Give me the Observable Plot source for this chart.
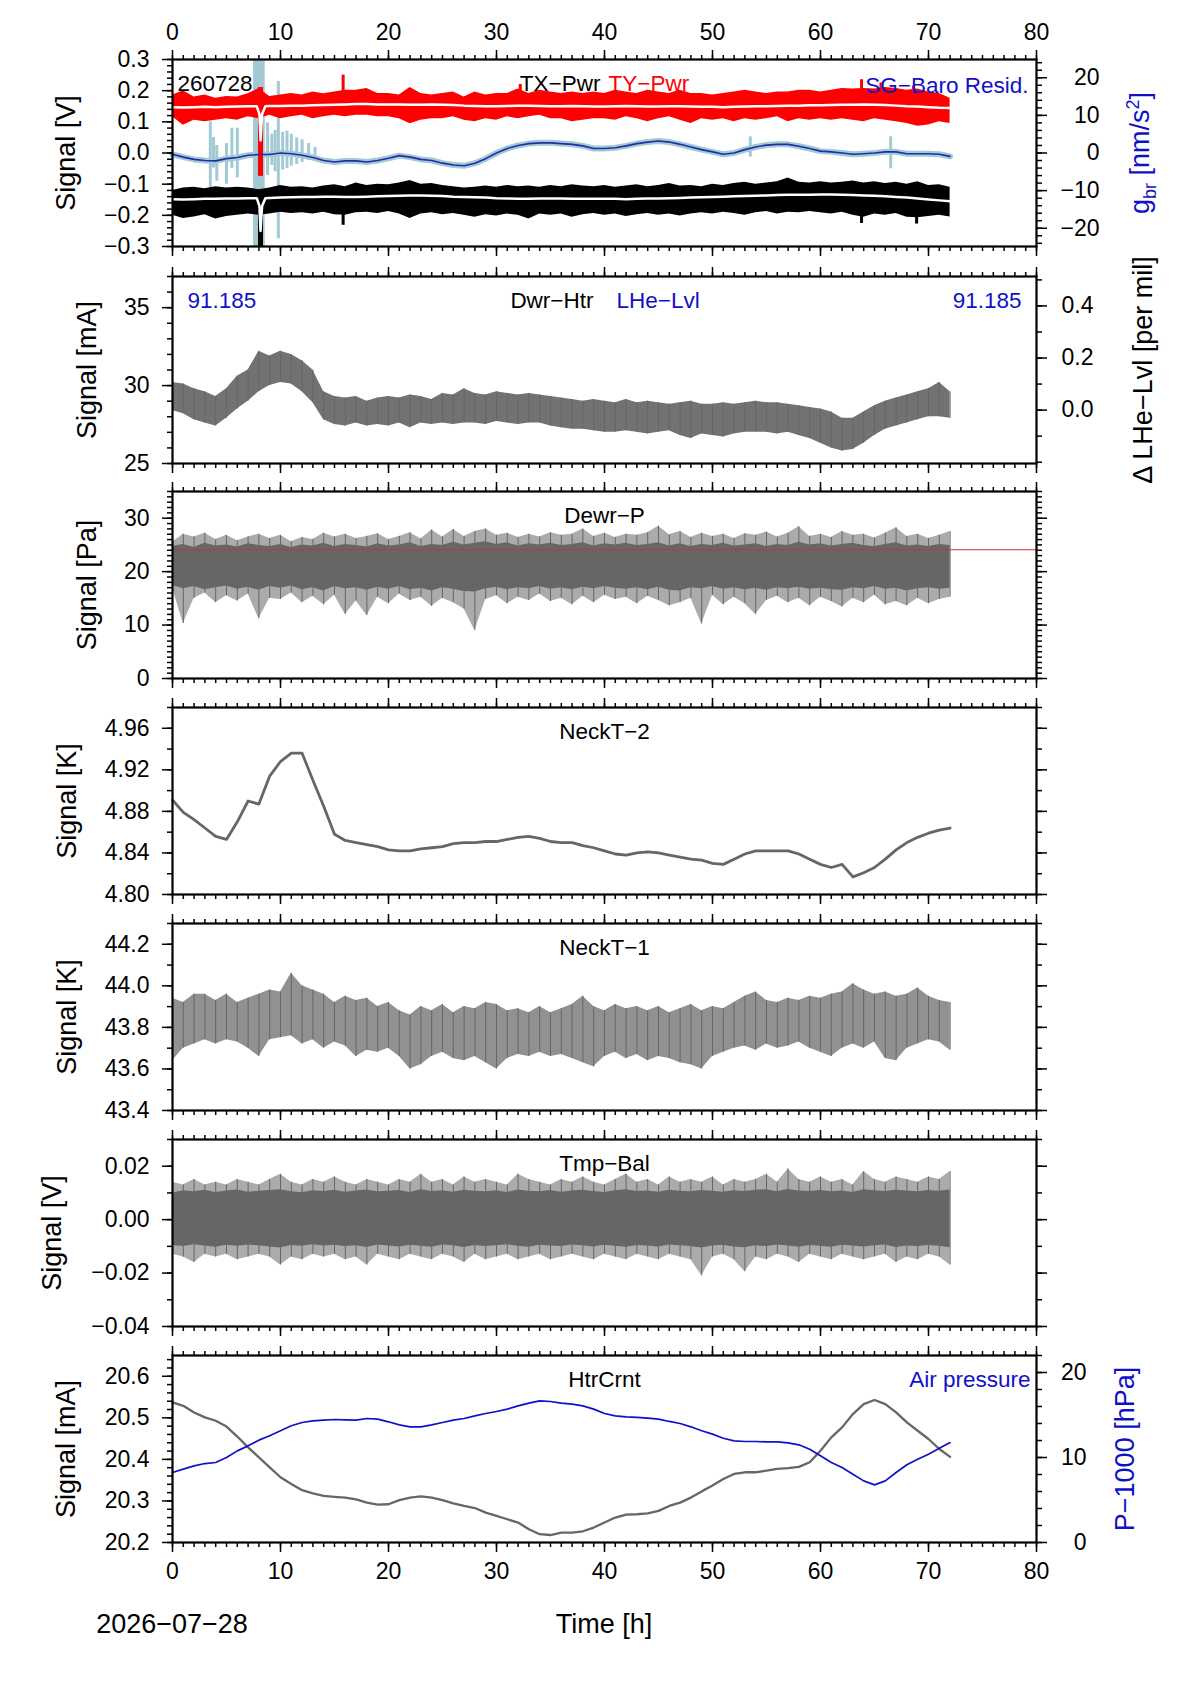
<!DOCTYPE html>
<html>
<head>
<meta charset="UTF-8">
<title>SG housekeeping 2026-07-28</title>
<script src="https://cdn.jsdelivr.net/npm/d3@7"></script>
<script src="https://cdn.jsdelivr.net/npm/@observablehq/plot@0.6"></script>
<style>
  body { margin: 0; background: white; }
  #page { position: relative; width: 1190px; height: 1684px; font-family: "Liberation Sans", Arial, sans-serif; }
  .panel { position: absolute; left: 0; }
  .vlab { position: absolute; white-space: nowrap; transform: translate(-50%, -50%) rotate(-90deg); font-size: 27px; }
  .hlab { position: absolute; white-space: nowrap; transform: translate(-50%, -50%); font-size: 27px; }
  .vlab sub, .vlab sup { font-size: 18px; }
</style>
</head>
<body>
<div id="page"></div>
<script>
// time axis (hours since start)
const hours = [0,1,2,3,4,5,6,7,8,9,10,11,12,13,14,15,16,17,18,19,20,21,22,23,24,25,26,27,28,29,30,31,32,33,34,35,
  36,37,38,39,40,41,42,43,44,45,46,47,48,49,50,51,52,53,54,55,56,57,58,59,60,61,62,63,64,65,66,67,68,69,70,71,72];

// panel 1 : TY-Pwr (red), TX-Pwr (black) [V], SG-Baro residual [nm/s^2]
const redMid = [0.147,0.146,0.147,0.148,0.147,0.148,0.149,0.150,0.150,0.151,
  0.151,0.152,0.152,0.153,0.154,0.155,0.156,0.157,0.157,0.156,
  0.156,0.156,0.155,0.155,0.156,0.155,0.154,0.152,0.151,0.150,
  0.150,0.151,0.152,0.152,0.151,0.150,0.150,0.151,0.150,0.149,
  0.149,0.150,0.151,0.150,0.149,0.149,0.150,0.150,0.149,0.148,
  0.148,0.147,0.148,0.149,0.150,0.150,0.151,0.152,0.152,0.153,
  0.153,0.154,0.155,0.155,0.156,0.155,0.154,0.152,0.150,0.149,
  0.147,0.145,0.144];
const redHi = [0.185,0.200,0.180,0.186,0.176,0.181,0.180,0.190,0.207,0.181,
  0.186,0.191,0.186,0.196,0.190,0.196,0.201,0.201,0.207,0.191,
  0.191,0.186,0.210,0.191,0.186,0.191,0.196,0.180,0.196,0.186,
  0.191,0.191,0.205,0.191,0.201,0.196,0.191,0.196,0.191,0.196,
  0.191,0.201,0.196,0.191,0.201,0.196,0.191,0.201,0.191,0.191,
  0.186,0.191,0.196,0.201,0.196,0.191,0.196,0.196,0.201,0.201,
  0.196,0.201,0.207,0.205,0.207,0.205,0.210,0.207,0.201,0.205,
  0.196,0.191,0.176];
const redLo = [0.116,0.089,0.105,0.100,0.105,0.110,0.105,0.116,0.110,0.121,
  0.110,0.116,0.121,0.110,0.116,0.121,0.116,0.121,0.121,0.116,
  0.116,0.110,0.094,0.105,0.110,0.110,0.116,0.105,0.100,0.110,
  0.105,0.116,0.110,0.116,0.121,0.110,0.110,0.100,0.105,0.110,
  0.110,0.105,0.116,0.110,0.100,0.110,0.116,0.105,0.095,0.110,
  0.105,0.110,0.100,0.110,0.105,0.110,0.116,0.100,0.110,0.105,
  0.110,0.105,0.110,0.105,0.100,0.110,0.105,0.100,0.095,0.086,
  0.090,0.100,0.095];
const blkMid = [-0.148,-0.149,-0.148,-0.147,-0.147,-0.146,-0.146,-0.145,-0.145,-0.144,
  -0.143,-0.142,-0.141,-0.141,-0.140,-0.140,-0.141,-0.141,-0.140,-0.139,
  -0.138,-0.137,-0.136,-0.136,-0.137,-0.138,-0.140,-0.141,-0.142,-0.143,
  -0.145,-0.146,-0.147,-0.147,-0.146,-0.146,-0.146,-0.147,-0.147,-0.147,
  -0.147,-0.147,-0.148,-0.147,-0.146,-0.146,-0.145,-0.144,-0.143,-0.142,
  -0.141,-0.140,-0.139,-0.138,-0.137,-0.136,-0.135,-0.134,-0.134,-0.134,
  -0.133,-0.133,-0.134,-0.135,-0.136,-0.137,-0.139,-0.141,-0.143,-0.146,
  -0.149,-0.152,-0.155];
const blkHi = [-0.120,-0.112,-0.110,-0.115,-0.108,-0.112,-0.110,-0.112,-0.118,-0.112,
  -0.104,-0.110,-0.108,-0.112,-0.106,-0.102,-0.108,-0.096,-0.104,-0.100,
  -0.102,-0.096,-0.088,-0.100,-0.098,-0.104,-0.108,-0.112,-0.110,-0.106,
  -0.110,-0.104,-0.108,-0.106,-0.110,-0.104,-0.108,-0.102,-0.106,-0.108,
  -0.104,-0.110,-0.106,-0.102,-0.108,-0.104,-0.098,-0.106,-0.104,-0.108,
  -0.100,-0.104,-0.098,-0.094,-0.100,-0.096,-0.092,-0.080,-0.094,-0.096,
  -0.092,-0.096,-0.094,-0.090,-0.096,-0.092,-0.098,-0.094,-0.100,-0.092,
  -0.104,-0.102,-0.110];
const blkLo = [-0.200,-0.210,-0.205,-0.198,-0.212,-0.204,-0.200,-0.196,-0.200,-0.196,
  -0.190,-0.194,-0.192,-0.196,-0.190,-0.198,-0.200,-0.192,-0.190,-0.194,
  -0.188,-0.196,-0.210,-0.196,-0.192,-0.198,-0.194,-0.200,-0.206,-0.198,
  -0.202,-0.196,-0.200,-0.212,-0.196,-0.200,-0.196,-0.206,-0.198,-0.194,
  -0.200,-0.196,-0.204,-0.198,-0.194,-0.200,-0.196,-0.202,-0.196,-0.192,
  -0.196,-0.190,-0.194,-0.200,-0.192,-0.188,-0.196,-0.190,-0.192,-0.188,
  -0.192,-0.196,-0.190,-0.200,-0.206,-0.196,-0.200,-0.194,-0.206,-0.208,
  -0.204,-0.200,-0.205];
const baroResid = [-0.35,-1.1,-1.7,-2.0,-2.1,-1.5,-1.2,-0.6,-0.4,-0.4,
  0,-0.2,-0.6,-1.2,-2.0,-2.4,-2.1,-2.1,-2.4,-2.0,
  -1.4,-0.7,-1.1,-1.7,-2.0,-2.7,-3.2,-3.4,-2.7,-1.5,
  0,1.2,2.0,2.5,2.7,2.7,2.5,2.3,1.9,1.2,
  1.2,1.4,1.9,2.5,2.9,3.2,2.9,2.3,1.6,0.9,
  0.3,-0.35,0,0.9,1.6,2.1,2.3,2.3,1.8,1.2,
  0.5,0.3,0,-0.35,-0.2,0,0.3,0.3,-0.2,-0.2,
  -0.2,-0.35,-0.9];
// disturbances in the raw gravity trace [nm/s^2]
const spikeT  = [3.5,3.8,4.1,5.0,5.5,6.0,7.6,7.8,8.0,8.2,8.4,8.8,9.2,9.5,9.8,10.2,10.6,11.0,11.5,12.0,12.6,13.2,53.5,66.5];
const spikeLo = [-10.8,-4,-7.5,-8.3,-4.1,-6.6,-26,-26,-26,-26,-26,-6,-3.3,-5,-22.8,-4.5,-4.1,-3.5,-3,-2.5,-2,-1.8,-1.1,-4.2];
const spikeHi = [8.3,4.1,2.0,2.5,6.6,6.6,26,26,26,26,26,8,5.0,6,19.0,5.5,5.8,5.0,4,3.5,2.5,1.5,4.3,4.3];
// power outliers [V]
const redSpikeT = [15.8,32.2,63.8,65.6,68.6];
const redSpikeLo = [0.18,0.18,0.18,0.18,0.18];
const redSpikeHi = [0.25,0.22,0.235,0.225,0.215];
const blkSpikeT = [15.8,63.8,68.9];
const blkSpikeLo = [-0.232,-0.226,-0.228];
const blkSpikeHi = [-0.19,-0.19,-0.19];
// event at 8.2 h
const dipT = [8.15];
const redDipLo = [-0.075], redDipHi = [0.21];
const blkDipLo = [-0.32], blkDipHi = [-0.13];
const notchT = [7.8,8.05,8.15,8.3,8.6];
const redNotch = [0.150,0.125,0.04,0.125,0.150];
const blkNotch = [-0.145,-0.17,-0.25,-0.17,-0.145];

// panel 2 : Dwr-Htr [mA]
const dwrHi = [30.2,30.1,29.8,29.6,29.3,29.8,30.6,31.0,32.2,31.9,
  32.2,32.0,31.6,31.0,29.6,29.3,29.2,29.3,29.0,29.2,
  29.3,29.2,29.4,29.3,29.1,29.5,29.4,29.8,29.5,29.4,
  29.6,29.5,29.4,29.5,29.4,29.3,29.2,29.1,29.0,29.1,
  29.0,28.9,29.1,28.9,29.0,28.9,28.8,28.9,29.0,28.8,
  28.8,28.9,28.8,28.9,29.0,28.9,28.9,28.8,28.7,28.6,
  28.5,28.3,27.9,27.9,28.3,28.7,29.0,29.2,29.4,29.6,
  29.8,30.2,29.6];
const dwrLo = [28.4,28.2,27.8,27.6,27.4,27.9,28.5,29.0,29.6,30.0,
  30.2,30.1,29.6,28.9,27.8,27.5,27.4,27.6,27.4,27.5,
  27.4,27.6,27.3,27.6,27.5,27.6,27.5,27.6,27.6,27.5,
  27.7,27.6,27.5,27.6,27.6,27.4,27.3,27.2,27.2,27.1,
  27.0,27.0,27.1,27.0,26.9,27.0,27.1,26.8,26.6,26.9,
  26.8,26.7,26.9,27.0,27.0,27.0,26.9,27.0,26.8,26.6,
  26.3,26.0,25.8,25.9,26.3,26.8,27.2,27.4,27.6,27.8,
  28.0,28.0,27.9];
const lheLabel = "91.185";

// panel 3 : Dewr-P [Pa]
const dewrLimit = 24.1;
const dewrOutHi = [25.5,27.0,26.5,27.2,26.0,26.8,25.8,26.5,27.0,26.2,
  26.8,25.6,26.4,26.0,27.2,26.5,27.0,26.2,26.6,27.1,
  26.0,26.6,27.3,26.1,27.8,26.5,27.9,26.6,27.5,28.0,
  26.8,27.2,26.4,27.0,26.5,27.3,26.8,27.0,28.0,26.6,
  27.2,26.4,27.0,26.8,27.3,28.5,26.9,27.5,26.4,27.2,
  26.6,27.0,26.2,27.1,26.8,27.4,26.5,27.2,28.4,26.6,
  27.0,26.4,27.5,26.8,27.0,26.3,27.2,28.2,26.6,27.0,
  26.2,26.8,27.5];
const dewrOutLo = [17.0,10.3,15.0,16.0,14.2,15.5,14.5,15.8,11.2,15.0,
  14.8,16.0,14.2,15.4,13.8,15.6,12.0,14.5,11.8,15.2,
  14.0,15.8,14.6,15.2,13.5,15.0,14.2,13.0,9.0,14.8,
  15.5,14.0,15.2,14.6,15.8,14.4,15.0,13.8,15.4,14.2,
  15.6,14.8,15.2,14.0,15.4,14.6,13.6,14.2,15.0,10.2,
  15.6,13.8,15.2,14.0,12.0,14.6,15.4,14.2,15.0,13.6,
  15.2,14.4,13.4,15.0,14.2,15.6,13.8,14.4,13.6,15.0,
  14.0,14.8,15.2];
const dewrCoreHi = [24.7,25.1,24.5,25.3,24.8,25.0,24.6,25.2,24.9,24.7,
  25.1,24.5,25.0,24.8,25.3,24.7,25.1,24.9,24.6,25.2,
  24.8,25.0,25.4,24.7,25.1,24.9,25.5,25.0,25.3,25.6,
  25.1,25.4,24.8,25.2,25.0,25.3,24.9,25.1,25.4,24.8,
  25.2,25.0,25.3,24.9,25.1,25.4,24.8,25.2,24.7,25.1,
  24.9,25.3,24.8,25.0,25.2,24.7,25.1,24.9,25.5,25.0,
  25.2,24.8,25.1,25.3,24.9,24.7,25.1,25.4,24.8,25.0,
  24.7,25.1,24.9];
const dewrCoreLo = [17.4,16.8,17.2,16.6,17.0,17.3,16.7,17.1,16.5,17.2,
  16.9,17.3,16.6,17.0,16.4,17.2,16.8,17.0,16.5,17.1,
  16.7,17.2,16.6,16.9,16.4,17.0,16.7,16.3,16.2,16.8,
  17.1,16.6,17.0,16.8,17.2,16.7,17.0,16.6,17.1,16.8,
  17.2,16.9,16.7,17.0,16.6,17.1,16.5,16.4,17.0,16.8,
  17.2,16.7,17.0,16.6,16.9,16.5,17.0,16.8,17.1,16.7,
  16.9,16.6,16.5,17.0,16.8,17.2,16.7,16.9,16.4,16.8,
  17.0,16.7,16.9];

// panel 4 : NeckT-2 [K]
const neck2 = [4.891,4.879,4.872,4.864,4.856,4.853,4.870,4.890,4.887,4.914,
  4.928,4.936,4.936,4.910,4.885,4.858,4.852,4.850,4.848,4.846,
  4.843,4.842,4.842,4.844,4.845,4.846,4.849,4.850,4.850,4.851,
  4.851,4.853,4.855,4.856,4.854,4.851,4.850,4.850,4.847,4.845,
  4.842,4.839,4.838,4.840,4.841,4.840,4.838,4.836,4.834,4.833,
  4.830,4.829,4.834,4.839,4.842,4.842,4.842,4.842,4.839,4.834,
  4.829,4.826,4.829,4.817,4.821,4.826,4.834,4.843,4.850,4.855,
  4.859,4.862,4.864];

// panel 5 : NeckT-1 [K]
const neck1Hi = [43.94,43.92,43.96,43.96,43.93,43.96,43.92,43.94,43.96,43.98,
  43.97,44.06,44.00,43.98,43.96,43.92,43.95,43.93,43.94,43.90,
  43.92,43.88,43.86,43.90,43.88,43.91,43.87,43.90,43.89,43.92,
  43.91,43.88,43.89,43.87,43.90,43.87,43.89,43.91,43.95,43.90,
  43.88,43.91,43.89,43.90,43.88,43.90,43.87,43.89,43.91,43.88,
  43.90,43.89,43.92,43.95,43.97,43.93,43.92,43.94,43.93,43.95,
  43.94,43.96,43.97,44.01,43.98,43.96,43.97,43.95,43.96,43.99,
  43.95,43.93,43.92];
const neck1Lo = [43.64,43.70,43.72,43.74,43.72,43.74,43.73,43.70,43.66,43.74,
  43.75,43.76,43.72,43.74,43.70,43.73,43.71,43.66,43.69,43.68,
  43.70,43.66,43.60,43.62,43.66,43.68,43.65,43.64,43.66,43.63,
  43.60,43.65,43.67,43.66,43.68,43.66,43.67,43.65,43.63,43.61,
  43.66,43.68,43.65,43.67,43.64,43.66,43.65,43.63,43.62,43.60,
  43.66,43.68,43.70,43.71,43.69,43.72,43.70,43.71,43.73,43.70,
  43.68,43.66,43.70,43.72,43.70,43.73,43.65,43.64,43.70,43.72,
  43.74,43.73,43.69];

// panel 6 : Tmp-Bal [V]
const tmpOutHi = [0.014,0.013,0.015,0.013,0.014,0.013,0.015,0.014,0.013,0.015,
  0.017,0.014,0.013,0.015,0.014,0.016,0.014,0.013,0.015,0.014,
  0.013,0.015,0.014,0.017,0.014,0.015,0.013,0.016,0.014,0.015,
  0.014,0.013,0.017,0.015,0.014,0.013,0.015,0.014,0.016,0.014,
  0.013,0.015,0.017,0.014,0.015,0.013,0.016,0.014,0.015,0.014,
  0.016,0.013,0.015,0.014,0.015,0.017,0.014,0.019,0.015,0.014,
  0.016,0.014,0.015,0.013,0.018,0.015,0.014,0.016,0.015,0.014,
  0.016,0.015,0.018];
const tmpOutLo = [-0.013,-0.014,-0.016,-0.013,-0.014,-0.013,-0.015,-0.014,-0.013,-0.014,
  -0.017,-0.014,-0.015,-0.013,-0.014,-0.013,-0.015,-0.014,-0.017,-0.013,
  -0.014,-0.015,-0.013,-0.014,-0.015,-0.013,-0.014,-0.016,-0.013,-0.015,
  -0.014,-0.013,-0.015,-0.014,-0.013,-0.015,-0.014,-0.013,-0.014,-0.015,
  -0.013,-0.014,-0.015,-0.013,-0.014,-0.015,-0.013,-0.014,-0.015,-0.021,
  -0.014,-0.013,-0.015,-0.0195,-0.014,-0.015,-0.013,-0.014,-0.016,-0.013,
  -0.014,-0.015,-0.013,-0.014,-0.015,-0.014,-0.013,-0.016,-0.014,-0.015,
  -0.013,-0.014,-0.017];
const tmpCoreHi = [0.0100,0.0108,0.0104,0.0110,0.0102,0.0107,0.0111,0.0103,0.0106,0.0109,
  0.0112,0.0104,0.0101,0.0108,0.0105,0.0110,0.0103,0.0107,0.0111,0.0104,
  0.0106,0.0109,0.0102,0.0112,0.0105,0.0108,0.0103,0.0110,0.0106,0.0104,
  0.0108,0.0102,0.0111,0.0106,0.0104,0.0109,0.0103,0.0107,0.0110,0.0105,
  0.0102,0.0108,0.0112,0.0105,0.0107,0.0103,0.0110,0.0106,0.0104,0.0109,
  0.0106,0.0103,0.0108,0.0105,0.0110,0.0112,0.0104,0.0113,0.0107,0.0105,
  0.0109,0.0104,0.0107,0.0102,0.0112,0.0108,0.0105,0.0110,0.0107,0.0104,
  0.0109,0.0106,0.0111];
const tmpCoreLo = [-0.0097,-0.0101,-0.0094,-0.0099,-0.0103,-0.0096,-0.0100,-0.0095,-0.0098,-0.0102,
  -0.0106,-0.0097,-0.0100,-0.0094,-0.0099,-0.0096,-0.0101,-0.0098,-0.0104,-0.0095,
  -0.0099,-0.0102,-0.0096,-0.0100,-0.0103,-0.0095,-0.0098,-0.0104,-0.0097,-0.0101,
  -0.0098,-0.0094,-0.0100,-0.0103,-0.0096,-0.0099,-0.0101,-0.0095,-0.0098,-0.0102,
  -0.0096,-0.0100,-0.0103,-0.0097,-0.0099,-0.0102,-0.0095,-0.0098,-0.0101,-0.0106,
  -0.0099,-0.0096,-0.0102,-0.0105,-0.0098,-0.0101,-0.0095,-0.0099,-0.0103,-0.0097,
  -0.0100,-0.0103,-0.0096,-0.0099,-0.0102,-0.0098,-0.0095,-0.0104,-0.0099,-0.0101,
  -0.0097,-0.0100,-0.0105];

// panel 7 : HtrCrnt [mA] and air pressure P-1000 [hPa]
const htrCrnt = [20.537,20.529,20.513,20.501,20.493,20.479,20.455,20.429,20.405,20.381,
  20.357,20.341,20.326,20.318,20.312,20.310,20.308,20.304,20.296,20.291,
  20.292,20.302,20.308,20.311,20.308,20.302,20.294,20.288,20.283,20.272,
  20.264,20.256,20.248,20.232,20.220,20.218,20.224,20.224,20.227,20.236,
  20.248,20.260,20.267,20.268,20.270,20.276,20.288,20.296,20.308,20.323,
  20.337,20.353,20.365,20.369,20.369,20.373,20.377,20.379,20.382,20.393,
  20.421,20.453,20.477,20.509,20.533,20.543,20.533,20.513,20.489,20.469,
  20.449,20.425,20.406];
const airPres = [8.24,8.63,9.02,9.29,9.41,10.0,10.78,11.37,12.04,12.55,
  13.14,13.73,14.12,14.31,14.39,14.47,14.43,14.39,14.59,14.51,
  14.20,13.84,13.61,13.61,13.84,14.12,14.39,14.59,14.90,15.18,
  15.41,15.69,16.08,16.39,16.67,16.59,16.39,16.27,16.08,15.69,
  15.18,14.90,14.78,14.71,14.63,14.51,14.24,14.00,13.61,13.14,
  12.75,12.27,11.96,11.88,11.88,11.84,11.84,11.73,11.49,10.98,
  10.20,9.41,8.82,8.04,7.25,6.78,7.25,8.24,9.14,9.80,
  10.39,11.10,11.76];

const dateLabel = "2026−07−28";
const stationCode = "260728";

// ---------------------------------------------------------------------
const W = 1190, ML = 172, MR = 154, PH = 187;
const tops = [59, 276, 491, 707, 923, 1139, 1355];
const GRAY = "#666666", RED = "#ff0000", LBLUE = "#a3c9d4", DBLUE = "#1b2fa8", TBLUE = "#1010c8";
const FONT = "'Liberation Sans', Arial, sans-serif";
const TICKFONT = 23;
const page = document.querySelector("#page");

const steps = (a, b, s) => d3.range(Math.round((b - a) / s) + 1).map(k => +(a + k * s).toFixed(4));
const none = () => "";
const rows = hours.map((t, i) => ({t, i}));

function addPanel(i, cfg) {
  const mt = i === 0 ? 59 : 40;
  const mb = i === 6 ? 64 : 40;
  const axes = [];
  for (const anchor of ["top", "bottom"]) {
    const lab = (anchor === "top" && i === 0) || (anchor === "bottom" && i === 6);
    axes.push(Plot.axisX({anchor, ticks: steps(0, 80, 1), tickSize: 5, tickFormat: none, label: null, strokeWidth: 1.5}));
    axes.push(Plot.axisX({anchor, ticks: steps(0, 80, 10), tickSize: 10, tickPadding: 10, strokeWidth: 1.5,
      tickFormat: lab ? d => d : none, label: null, fontSize: TICKFONT}));
  }
  axes.push(Plot.axisY({anchor: "left", ticks: cfg.minor, tickSize: 5, tickFormat: none, label: null, strokeWidth: 1.5}));
  axes.push(Plot.axisY({anchor: "left", ticks: cfg.major, tickSize: 10, tickPadding: 13, strokeWidth: 1.5,
    tickFormat: d3.format(cfg.fmt), label: null, fontSize: TICKFONT}));
  if (cfg.right) {
    const r = cfg.right;
    const toPrim = d3.scaleLinear(r.domain, cfg.y);
    axes.push(Plot.axisY({anchor: "right", ticks: r.minor.map(toPrim), tickSize: 5, tickFormat: none, label: null, strokeWidth: 1.5}));
    axes.push(Plot.axisY({anchor: "right", ticks: r.major.map(toPrim), tickSize: 10, tickPadding: r.pad, strokeWidth: 1.5,
      textAnchor: "end", label: null, fontSize: TICKFONT,
      tickFormat: d => d3.format(r.fmt)(Math.round(toPrim.invert(d) * 100) / 100 + 0)}));
  } else {
    axes.push(Plot.axisY({anchor: "right", ticks: cfg.minor, tickSize: 5, tickFormat: none, label: null, strokeWidth: 1.5}));
    axes.push(Plot.axisY({anchor: "right", ticks: cfg.major, tickSize: 10, tickFormat: none, label: null, strokeWidth: 1.5}));
  }
  const plot = Plot.plot({
    width: W, height: PH + mt + mb,
    marginLeft: ML, marginRight: MR, marginTop: mt, marginBottom: mb,
    x: {domain: [0, 80], axis: null},
    y: {domain: cfg.y, axis: null},
    style: {fontFamily: FONT, fontSize: TICKFONT + "px", background: "transparent", color: "black"},
    marks: [...cfg.marks, Plot.frame({stroke: "black", strokeWidth: 2.2}), ...axes]
  });
  const div = document.createElement("div");
  div.className = "panel";
  div.style.top = (tops[i] - mt) + "px";
  div.append(plot);
  page.append(div);
}

function title(txt, opts = {}) {
  return Plot.text([txt], {frameAnchor: "top", dy: 16, fontSize: 22.5, fill: "black", ...opts});
}

// panel 1
const gToV = d3.scaleLinear([-24.85, 24.85], [-0.3, 0.3]);
const p1 = rows.map(({t, i}) => ({t, redLo: redLo[i], redHi: redHi[i], redMid: redMid[i],
  blkLo: blkLo[i], blkHi: blkHi[i], blkMid: blkMid[i], baro: gToV(baroResid[i])}));
const spikes = spikeT.map((t, i) => ({t, lo: gToV(spikeLo[i]), hi: gToV(spikeHi[i])}));
const redSp = redSpikeT.map((t, i) => ({t, lo: redSpikeLo[i], hi: redSpikeHi[i]}));
const blkSp = blkSpikeT.map((t, i) => ({t, lo: blkSpikeLo[i], hi: blkSpikeHi[i]}));
const outside = d => d.t < 7.7 || d.t > 8.7;
const redWhite = [...p1.filter(outside).map(d => ({t: d.t, v: d.redMid})),
  ...notchT.map((t, i) => ({t, v: redNotch[i]}))].sort((a, b) => a.t - b.t);
const blkWhite = [...p1.filter(outside).map(d => ({t: d.t, v: d.blkMid})),
  ...notchT.map((t, i) => ({t, v: blkNotch[i]}))].sort((a, b) => a.t - b.t);

addPanel(0, {
  y: [-0.3, 0.3], major: steps(-0.3, 0.3, 0.1), minor: steps(-0.3, 0.3, 0.02), fmt: ".1f",
  right: {domain: [-24.85, 24.85], major: [-20, -10, 0, 10, 20], minor: steps(-24, 24, 2), fmt: "d", pad: 53},
  marks: [
    Plot.ruleX(spikes, {x: "t", y1: "lo", y2: "hi", stroke: LBLUE, strokeWidth: 3, clip: true}),
    Plot.lineY(p1, {x: "t", y: "baro", stroke: LBLUE, strokeWidth: 6}),
    Plot.areaY(p1, {x: "t", y1: "redLo", y2: "redHi", fill: RED}),
    Plot.areaY(p1, {x: "t", y1: "blkLo", y2: "blkHi", fill: "black"}),
    Plot.ruleX(redSp, {x: "t", y1: "lo", y2: "hi", stroke: RED, strokeWidth: 3}),
    Plot.ruleX(blkSp, {x: "t", y1: "lo", y2: "hi", stroke: "black", strokeWidth: 3}),
    Plot.ruleX(dipT, {x: d => d, y1: redDipLo, y2: redDipHi, stroke: RED, strokeWidth: 5}),
    Plot.ruleX(dipT, {x: d => d, y1: blkDipLo, y2: blkDipHi, stroke: "black", strokeWidth: 5, clip: true}),
    Plot.lineY(redWhite, {x: "t", y: "v", stroke: "white", strokeWidth: 2.5}),
    Plot.lineY(blkWhite, {x: "t", y: "v", stroke: "white", strokeWidth: 2.5}),
    Plot.lineY(p1, {x: "t", y: "baro", stroke: DBLUE, strokeWidth: 1.6}),
    Plot.text([stationCode], {frameAnchor: "top-left", textAnchor: "start", dx: 5, dy: 16, fontSize: 22.5, fill: "black"}),
    title("TX−Pwr", {textAnchor: "end", dx: -4}),
    title("TY−Pwr", {textAnchor: "start", dx: 4, fill: RED}),
    Plot.text(["SG−Baro Resid."], {frameAnchor: "top-right", textAnchor: "end", dx: -8, dy: 18, fontSize: 22.5, fill: TBLUE})
  ]
});

// panel 2
const p2 = rows.map(({t, i}) => ({t, lo: dwrLo[i], hi: dwrHi[i]}));
addPanel(1, {
  y: [25, 37], major: [25, 30, 35], minor: steps(25, 37, 1), fmt: "d",
  right: {domain: [-0.205, 0.513], major: [0, 0.2, 0.4], minor: steps(-0.2, 0.5, 0.1), fmt: ".1f", pad: 47},
  marks: [
    Plot.areaY(p2, {x: "t", y1: "lo", y2: "hi", fill: GRAY, fillOpacity: 0.92}),
    Plot.ruleX(p2, {x: "t", y1: "lo", y2: "hi", stroke: GRAY, strokeWidth: 1}),
    Plot.text([lheLabel], {frameAnchor: "top-left", textAnchor: "start", dx: 15, dy: 16, fontSize: 22.5, fill: TBLUE}),
    Plot.text([lheLabel], {frameAnchor: "top-right", textAnchor: "end", dx: -15, dy: 16, fontSize: 22.5, fill: TBLUE}),
    title("Dwr−Htr", {textAnchor: "end", dx: -11}),
    title("LHe−Lvl", {textAnchor: "start", dx: 12, fill: TBLUE})
  ]
});

// panel 3
const p3 = rows.map(({t, i}) => ({t, oLo: dewrOutLo[i], oHi: dewrOutHi[i], cLo: dewrCoreLo[i], cHi: dewrCoreHi[i]}));
addPanel(2, {
  y: [0, 35], major: [0, 10, 20, 30], minor: steps(0, 35, 1), fmt: "d",
  marks: [
    Plot.areaY(p3, {x: "t", y1: "oLo", y2: "oHi", fill: GRAY, fillOpacity: 0.55}),
    Plot.ruleX(p3, {x: "t", y1: "oLo", y2: "oHi", stroke: GRAY, strokeWidth: 1}),
    Plot.areaY(p3, {x: "t", y1: "cLo", y2: "cHi", fill: GRAY}),
    Plot.ruleY([dewrLimit], {stroke: "#cc3333", strokeWidth: 1.2}),
    title("Dewr−P")
  ]
});

// panel 4
const p4 = rows.map(({t, i}) => ({t, v: neck2[i]}));
addPanel(3, {
  y: [4.80, 4.98], major: steps(4.80, 4.96, 0.04), minor: steps(4.80, 4.98, 0.02), fmt: ".2f",
  marks: [
    Plot.lineY(p4, {x: "t", y: "v", stroke: GRAY, strokeWidth: 2.8}),
    title("NeckT−2")
  ]
});

// panel 5
const p5 = rows.map(({t, i}) => ({t, lo: neck1Lo[i], hi: neck1Hi[i]}));
addPanel(4, {
  y: [43.4, 44.3], major: steps(43.4, 44.2, 0.2), minor: steps(43.4, 44.3, 0.1), fmt: ".1f",
  marks: [
    Plot.areaY(p5, {x: "t", y1: "lo", y2: "hi", fill: GRAY, fillOpacity: 0.72}),
    Plot.ruleX(p5, {x: "t", y1: "lo", y2: "hi", stroke: GRAY, strokeWidth: 1}),
    title("NeckT−1")
  ]
});

// panel 6
const p6 = rows.map(({t, i}) => ({t, oLo: tmpOutLo[i], oHi: tmpOutHi[i], cLo: tmpCoreLo[i], cHi: tmpCoreHi[i]}));
addPanel(5, {
  y: [-0.04, 0.03], major: [-0.04, -0.02, 0, 0.02], minor: steps(-0.04, 0.03, 0.01), fmt: ".2f",
  marks: [
    Plot.areaY(p6, {x: "t", y1: "oLo", y2: "oHi", fill: GRAY, fillOpacity: 0.55}),
    Plot.ruleX(p6, {x: "t", y1: "oLo", y2: "oHi", stroke: GRAY, strokeWidth: 1}),
    Plot.areaY(p6, {x: "t", y1: "cLo", y2: "cHi", fill: GRAY}),
    title("Tmp−Bal")
  ]
});

// panel 7
const presToMa = d3.scaleLinear([0, 22], [20.2, 20.65]);
const p7 = rows.map(({t, i}) => ({t, htr: htrCrnt[i], p: presToMa(airPres[i])}));
addPanel(6, {
  y: [20.2, 20.65], major: steps(20.2, 20.6, 0.1), minor: steps(20.2, 20.64, 0.02), fmt: ".1f",
  right: {domain: [0, 22], major: [0, 10, 20], minor: steps(0, 22, 2), fmt: "d", pad: 40},
  marks: [
    Plot.lineY(p7, {x: "t", y: "htr", stroke: GRAY, strokeWidth: 2.3}),
    Plot.lineY(p7, {x: "t", y: "p", stroke: TBLUE, strokeWidth: 1.7}),
    title("HtrCrnt"),
    Plot.text(["Air pressure"], {frameAnchor: "top-right", textAnchor: "end", dx: -6, dy: 16, fontSize: 22.5, fill: TBLUE})
  ]
});

// axis titles as html so sub/superscripts work
function label(html, x, y, cls, color) {
  const d = document.createElement("div");
  d.className = cls;
  d.style.left = x + "px";
  d.style.top = y + "px";
  if (color) d.style.color = color;
  d.innerHTML = html;
  page.append(d);
}
const leftLabels = ["Signal [V]", "Signal [mA]", "Signal [Pa]", "Signal [K]", "Signal [K]", "Signal [V]", "Signal [mA]"];
const leftX = [66, 87, 87, 67, 67, 52, 66];
leftLabels.forEach((s, i) => label(s, leftX[i], tops[i] + PH / 2, "vlab"));
label("g<sub>br</sub> [nm/s<sup>2</sup>]", 1142, tops[0] + PH / 2, "vlab", TBLUE);
label("Δ LHe−Lvl [per mil]", 1143, tops[1] + PH / 2, "vlab");
label("P−1000 [hPa]", 1125, tops[6] + PH / 2, "vlab", TBLUE);
label("Time [h]", 604, 1624, "hlab");
label(dateLabel, 172, 1624, "hlab");
</script>
</body>
</html>
